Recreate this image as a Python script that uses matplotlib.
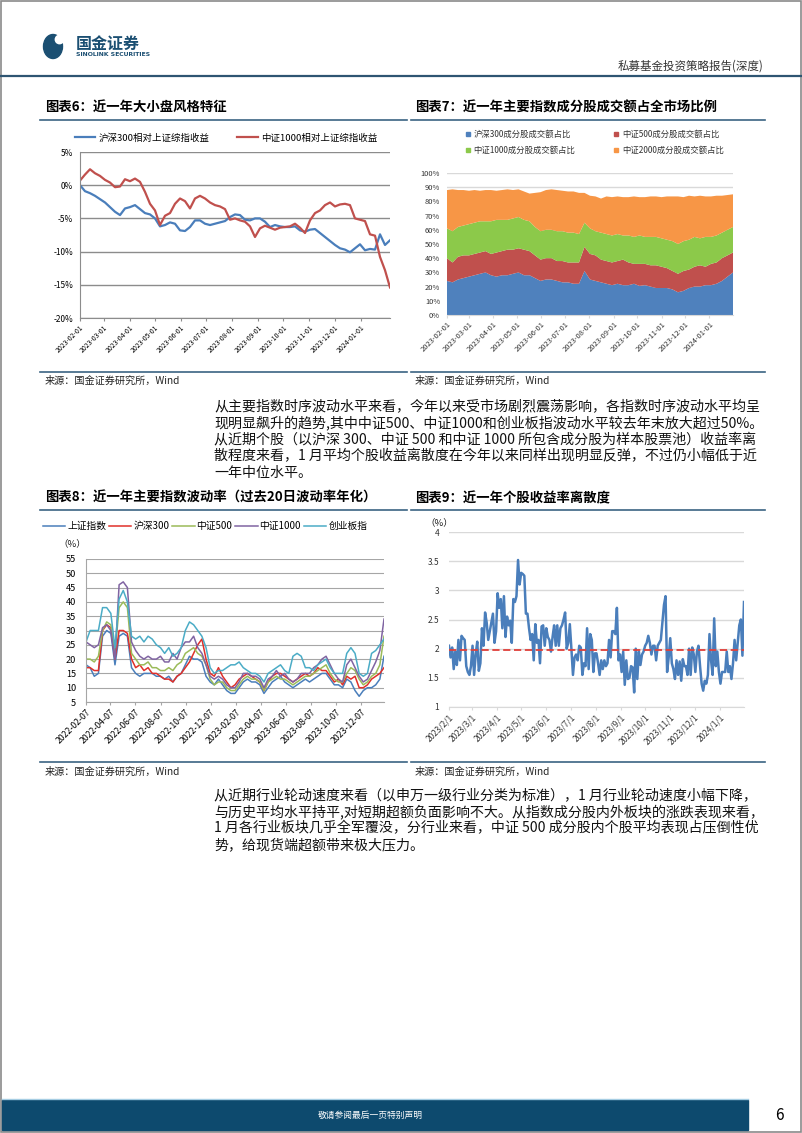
import numpy as np
import pandas as pd
import matplotlib
matplotlib.use('Agg')
import matplotlib.pyplot as plt
import matplotlib.dates as mdates
from matplotlib.patches import Rectangle, Ellipse, Circle
from matplotlib.lines import Line2D
from matplotlib.ticker import FuncFormatter, MultipleLocator, FixedLocator

plt.rcParams['font.family'] = ['Noto Sans CJK SC', 'DejaVu Sans']
plt.rcParams['axes.unicode_minus'] = False

# ── Data ─────────────────────────────────────────────────────
# Chart 6: relative returns vs SSE composite (%), roughly weekly
HS300_REL = [0, -0.9, -1.2, -1.6, -2.1, -2.6, -3.3, -4.0, -4.5, -3.5,
             -3.3, -3.0, -3.6, -4.2, -4.4, -5.0, -6.2, -6.0, -5.6, -5.8,
             -6.8, -6.9, -6.3, -5.3, -5.3, -5.8, -6.0, -5.8, -5.6, -5.4,
             -4.8, -4.4, -4.5, -5.2, -5.3, -5.0, -5.0, -5.5, -6.3, -6.0,
             -6.2, -6.3, -6.3, -6.2, -6.8, -7.0, -6.7, -6.6, -7.2, -7.8,
             -8.4, -9.0, -9.5, -9.7, -10.1, -9.5, -8.9, -9.8, -9.6, -9.7,
             -7.4, -9.0, -8.3]
ZZ1000_REL = [0.7, 1.6, 2.4, 1.8, 1.4, 0.8, 0.4, -0.3, -0.2, 0.9,
              0.6, 1.0, 0.5, -1.0, -2.8, -3.8, -6.0, -4.6, -4.2, -2.8,
              -2.0, -2.4, -3.5, -2.0, -1.6, -2.0, -2.6, -3.0, -3.2, -3.6,
              -5.2, -5.0, -5.3, -5.5, -6.2, -7.8, -6.5, -6.1, -6.4, -6.7,
              -6.4, -6.3, -6.2, -5.8, -6.4, -7.2, -5.3, -4.2, -3.8, -3.0,
              -2.6, -3.2, -2.9, -2.8, -3.0, -5.0, -5.2, -5.4, -7.4, -7.6,
              -10.8, -12.8, -15.4]
REL_LABELS = ['沪深300相对上证综指收益', '中证1000相对上证综指收益']

# Chart 7: turnover share of index constituents (%), weekly
HS300_SHARE = [24, 23, 25, 26, 27, 28, 29, 30, 28, 27, 28, 28, 29, 30, 28, 28, 26, 24,
               25, 25, 24, 23, 23, 22, 22, 31, 25, 24, 23, 22, 21, 22, 21, 21, 22, 20.5,
               21, 20, 19, 19, 19, 18, 16, 17, 19, 20, 20, 21, 21, 22, 24, 27, 30]
ZZ500_SHARE = [16, 14, 16, 16, 15, 15, 15, 15, 15, 17, 17, 18, 17, 17, 18, 17, 16, 15,
               15, 15, 14, 15, 14, 15, 15, 17, 18, 18, 16, 16, 16, 16, 18, 16, 14, 15.5,
               15, 15, 16, 15, 14, 13, 13, 14, 13, 14, 15, 13, 15, 15, 16, 15, 14]
ZZ1000_SHARE = [21, 22, 21, 21, 22, 22, 22, 21, 23, 23, 22, 21, 22, 22, 21, 21, 20, 20,
                20, 20, 21, 21, 21, 21, 20, 17, 18, 17, 19, 19, 19, 19, 17, 19, 19, 20,
                19, 20, 20, 20, 20, 21, 21, 21, 21, 21, 19, 21, 19, 19, 18, 18, 18]
ZZ2000_SHARE = [27, 29.5, 26, 25, 23.5, 23, 21.5, 22, 22, 20.5, 21, 21.5, 20, 19.5, 20, 19.5,
                24, 27.5, 28, 28.5, 29, 28.5, 29, 29, 29, 21, 23, 24.5, 24, 26.5, 27, 26.5,
                27, 27, 28.5, 27, 28, 28.5, 28.5, 29, 30.5, 31.5, 33.5, 31, 31, 28.5, 30,
                28.5, 28.5, 28, 26, 24.5, 23]
SHARE_LABELS = ['沪深300成分股成交额占比', '中证500成分股成交额占比',
                '中证1000成分股成交额占比', '中证2000成分股成交额占比']

# Chart 8: 20-day annualised volatility (%)
SH_VOL = [18, 17, 14, 15, 28, 30, 29, 18, 28, 29, 28, 17, 15, 14, 15, 15, 15, 14, 14, 13,
          14, 12, 14, 15, 18, 21, 20, 20, 19, 14, 12, 11, 13, 11, 9, 8, 8, 10, 12, 13,
          12, 12, 11, 8, 10, 12, 13, 14, 12, 11, 10, 11, 12, 13, 12, 13, 14, 15, 15, 13,
          11, 11, 10, 13, 12, 9, 7, 9, 10, 10, 11, 13, 21]
HS300_VOL = [17, 17, 16, 16, 30, 32, 31, 20, 30, 30, 29, 20, 17, 18, 16, 17, 15, 15, 14, 13,
             13, 12, 14, 15, 17, 19, 22, 25, 27, 20, 15, 14, 17, 14, 12, 10, 11, 13, 14, 15,
             14, 13, 12, 9, 12, 14, 15, 15, 14, 13, 12, 13, 14, 15, 14, 15, 17, 16, 16, 14,
             12, 13, 11, 14, 13, 14, 10, 10, 11, 13, 14, 15, 17]
ZZ500_VOL = [20, 20, 19, 21, 30, 33, 32, 22, 38, 40, 38, 22, 20, 18, 18, 19, 17, 17, 16, 16,
             17, 16, 18, 19, 22, 23, 24, 22, 21, 18, 13, 11, 12, 12, 10, 9, 9, 11, 13, 14,
             13, 13, 12, 9, 12, 13, 14, 13, 13, 12, 11, 12, 13, 14, 14, 15, 16, 17, 18, 15,
             13, 12, 12, 15, 17, 16, 13, 11, 12, 14, 15, 18, 28]
ZZ1000_VOL = [26, 25, 24, 25, 31, 32, 30, 20, 46, 47, 45, 26, 23, 21, 20, 21, 20, 20, 21, 19,
              19, 22, 20, 24, 26, 26, 28, 24, 22, 18, 14, 13, 14, 13, 11, 10, 10, 12, 15, 15,
              14, 14, 13, 10, 13, 14, 16, 14, 15, 13, 12, 13, 15, 15, 15, 17, 18, 20, 21, 18,
              15, 13, 12, 18, 20, 17, 14, 12, 13, 16, 19, 23, 34]
CYB_VOL = [26, 30, 30, 30, 38, 38, 36, 24, 41, 44, 40, 28, 27, 28, 26, 28, 27, 25, 24, 22,
           24, 21, 22, 24, 30, 33, 32, 30, 28, 24, 17, 15, 16, 16, 17, 18, 18, 19, 17, 16,
           15, 15, 14, 12, 15, 16, 17, 18, 16, 15, 21, 22, 21, 17, 17, 16, 18, 19, 20, 17,
           15, 15, 15, 22, 24, 22, 15, 14, 15, 22, 23, 25, 27]
VOL_LABELS = ['上证指数', '沪深300', '中证500', '中证1000', '创业板指']

# Chart 9: cross-sectional return dispersion (%)
DISPERSION = [2.05, 1.85, 2.02, 1.65, 1.95, 1.72, 2.15, 1.80, 2.22, 2.18, 2.15, 1.70, 1.60,
              1.55, 1.70, 2.05, 1.55, 1.90, 2.12, 1.62, 1.75, 2.35, 2.05, 2.62, 2.45, 2.15,
              2.30, 2.45, 2.60, 2.10, 2.30, 2.95, 2.70, 2.85, 2.35, 2.90, 2.20, 2.55, 2.40,
              2.48, 2.10, 2.85, 2.80, 2.90, 3.52, 3.10, 3.30, 3.28, 3.25, 2.60, 2.60, 2.35,
              2.15, 2.25, 1.80, 2.42, 2.10, 2.15, 1.75, 2.38, 2.40, 2.05, 2.35, 2.20, 2.15,
              1.95, 2.20, 2.40, 2.05, 2.40, 2.05, 2.35, 2.40, 2.50, 2.62, 2.00, 2.10, 2.42,
              2.00, 1.55, 1.85, 1.90, 1.80, 2.05, 2.02, 1.55, 1.75, 1.70, 2.35, 1.65, 2.25,
              2.15, 1.60, 1.92, 1.92, 1.75, 1.55, 1.80, 1.65, 1.80, 1.70, 1.75, 2.15, 1.85,
              2.30, 2.30, 2.25, 2.70, 1.80, 1.90, 1.60, 1.95, 1.38, 1.80, 1.48, 1.50, 1.70,
              1.68, 1.25, 2.00, 1.48, 1.95, 1.72, 1.90, 1.95, 2.05, 2.10, 2.22, 2.10, 1.90,
              2.05, 2.05, 1.80, 2.05, 2.10, 2.15, 2.45, 2.75, 2.90, 1.60, 1.85, 2.18, 1.75,
              1.65, 1.48, 1.80, 1.55, 1.78, 1.45, 1.82, 1.70, 1.70, 1.55, 2.00, 1.55, 2.02,
              1.90, 1.60, 1.95, 2.05, 1.70, 1.40, 1.28, 1.45, 1.40, 1.55, 2.25, 1.80, 1.55,
              2.52, 1.70, 1.95, 1.60, 1.40, 1.60, 1.60, 1.60, 1.95, 1.60, 1.70, 1.48, 1.75,
              2.15, 1.80, 2.10, 2.40, 2.50, 1.88, 2.80]
DISPERSION_MEDIAN = 1.97

PARA1 = ['从主要指数时序波动水平来看，今年以来受市场剧烈震荡影响，各指数时序波动水平均呈',
         '现明显飙升的趋势,其中中证500、中证1000和创业板指波动水平较去年末放大超过50%。',
         '从近期个股（以沪深 300、中证 500 和中证 1000 所包含成分股为样本股票池）收益率离',
         '散程度来看，1 月平均个股收益离散度在今年以来同样出现明显反弹，不过仍小幅低于近',
         '一年中位水平。']
PARA2 = ['从近期行业轮动速度来看（以申万一级行业分类为标准），1 月行业轮动速度小幅下降，',
         '与历史平均水平持平,对短期超额负面影响不大。从指数成分股内外板块的涨跌表现来看，',
         '1 月各行业板块几乎全军覆没，分行业来看，中证 500 成分股内个股平均表现占压倒性优',
         '势，给现货端超额带来极大压力。']
SOURCE = '来源：国金证券研究所，Wind'

# ── Page geometry (pixels) ───────────────────────────────────
W, H = 802, 1133
NAVY = '#0d4a6e'
RULE = '#3b6483'


def px_box(l, t, r, b):
    return [l / W, 1 - b / H, (r - l) / W, (b - t) / H]


def fig_pt(x, y):
    return (x / W, 1 - y / H)


def month_ticks(start, end, day=1, step=1):
    return mdates.date2num(pd.date_range(start, end, freq=f'{step}MS') + pd.Timedelta(days=day - 1))


def rotate_labels(ax, size, pad=1.5):
    for lab in ax.get_xticklabels():
        lab.set_rotation(45)
        lab.set_ha('right')
        lab.set_rotation_mode('anchor')
        lab.set_fontsize(size)
    ax.tick_params(axis='x', pad=pad)


fig = plt.figure(figsize=(W / 100, H / 100), dpi=100)
bg = fig.add_axes([0, 0, 1, 1])
bg.set_xlim(0, W)
bg.set_ylim(H, 0)
bg.axis('off')

# page frame / header / footer
bg.add_patch(Rectangle((0.5, 0.5), W - 1.5, H - 1.5, fill=False, ec='#8a8a8a', lw=1.2))
bg.add_patch(Ellipse((53, 46.5), 19, 24, color='#1b4f72'))
bg.add_patch(Circle((59.5, 39.5), 4.2, color='white'))
bg.text(76, 44, '国金证券', fontsize=11.5, fontweight='bold', color='#1b4f72', va='center')
bg.text(76, 55, 'SINOLINK SECURITIES', fontsize=4.4, fontweight='bold', color='#1b4f72',
        va='center', family='DejaVu Sans')
bg.text(763, 66, '私募基金投资策略报告(深度)', fontsize=8.3, color='#333333', ha='right', va='center')
bg.plot([1, 801], [75.5, 75.5], color='#2e5572', lw=1.6)

bg.plot([2, 748], [1098.5, 1098.5], color='#a5cde3', lw=1.0)
bg.add_patch(Rectangle((2, 1100), 746, 30, color=NAVY))
bg.text(370, 1115, '敬请参阅最后一页特别声明', fontsize=6.3, color='white', ha='center', va='center')
bg.text(779, 1115, '6', fontsize=11, color='black', ha='center', va='center')

# chart titles, rules, sources
for x, y, title in [(45, 108, '图表6：近一年大小盘风格特征'),
                    (415, 108, '图表7：近一年主要指数成分股成交额占全市场比例'),
                    (45, 498, '图表8：近一年主要指数波动率（过去20日波动率年化）'),
                    (415, 498, '图表9：近一年个股收益率离散度')]:
    bg.text(x, y, title, fontsize=9.6, fontweight='bold', color='black', va='center')
for y in [119.5, 371.5, 509.5, 761.5]:
    bg.plot([40, 407], [y, y], color=RULE, lw=1.2)
    bg.plot([411, 765], [y, y], color=RULE, lw=1.2)
for x, y in [(45, 381), (415, 381), (45, 772), (415, 772)]:
    bg.text(x, y, SOURCE, fontsize=7.3, color='#222222', va='center')

# body paragraphs
for i, line in enumerate(PARA1):
    bg.text(214, 406 + i * 16.8, line, fontsize=10.1, color='#111111', va='center')
for i, line in enumerate(PARA2):
    bg.text(214, 795 + i * 16.8, line, fontsize=10.1, color='#111111', va='center')

# ── Chart 6 ──────────────────────────────────────────────────
ax6 = fig.add_axes(px_box(80, 152, 390, 318))
d6 = pd.date_range('2023-02-01', '2024-02-05', periods=len(HS300_REL))
ax6.plot(d6, HS300_REL, color='#4a7ebb', lw=1.6, label=REL_LABELS[0])
ax6.plot(d6, ZZ1000_REL, color='#c0504d', lw=1.6, label=REL_LABELS[1])
ax6.set_ylim(-20, 5)
ax6.set_xlim(d6[0], d6[-1])
ax6.yaxis.set_major_locator(MultipleLocator(5))
ax6.yaxis.set_major_formatter(FuncFormatter(lambda v, p: f'{v:.0f}%'))
ax6.xaxis.set_major_locator(FixedLocator(month_ticks('2023-02-01', '2024-01-01')))
ax6.xaxis.set_major_formatter(mdates.DateFormatter('%Y-%m-%d'))
ax6.grid(axis='y', color='#8c8c8c', lw=1.0)
ax6.set_axisbelow(True)
for s in ['top', 'right']:
    ax6.spines[s].set_visible(False)
for s in ['left', 'bottom']:
    ax6.spines[s].set_color('#8c8c8c')
ax6.tick_params(axis='y', labelsize=6, length=0, pad=5)
ax6.tick_params(axis='x', length=2.5, color='#8c8c8c')
rotate_labels(ax6, 4.9)
ax6.legend(loc='center', bbox_to_anchor=fig_pt(226, 138), bbox_transform=fig.transFigure,
           ncol=2, frameon=False, fontsize=6.8, handlelength=2.2, handletextpad=0.3,
           columnspacing=3.0, borderpad=0)

# ── Chart 7 ──────────────────────────────────────────────────
ax7 = fig.add_axes(px_box(447, 173, 733, 315))
d7 = pd.date_range('2023-02-01', '2024-01-31', periods=len(HS300_SHARE))
colors7 = ['#4f81bd', '#c0504d', '#8cc94a', '#f79646']
ax7.stackplot(d7, HS300_SHARE, ZZ500_SHARE, ZZ1000_SHARE, ZZ2000_SHARE,
              colors=colors7, linewidth=0)
ax7.set_ylim(0, 100)
ax7.set_xlim(d7[0], d7[-1])
ax7.yaxis.set_major_locator(MultipleLocator(10))
ax7.yaxis.set_major_formatter(FuncFormatter(lambda v, p: f'{v:.0f}%'))
ax7.xaxis.set_major_locator(FixedLocator(month_ticks('2023-02-01', '2024-01-01')))
ax7.xaxis.set_major_formatter(mdates.DateFormatter('%Y-%m-%d'))
ax7.grid(axis='y', color='#d9d9d9', lw=1.0)
ax7.set_axisbelow(True)
for s in ['top', 'right', 'left']:
    ax7.spines[s].set_visible(False)
ax7.spines['bottom'].set_color('#d9d9d9')
ax7.tick_params(axis='y', labelsize=5.4, length=0, pad=5, colors='#333333')
ax7.tick_params(axis='x', length=2.5, color='#d9d9d9', labelcolor='#333333')
rotate_labels(ax7, 5.4)
h7 = [Line2D([], [], ls='none', marker='s', ms=3.5, color=c) for c in colors7]
order = [0, 2, 1, 3]
ax7.legend([h7[i] for i in order], [SHARE_LABELS[i] for i in order], loc='center',
           bbox_to_anchor=fig_pt(594, 142.5), bbox_transform=fig.transFigure, ncol=2,
           frameon=False, fontsize=6, handlelength=0.8, handletextpad=0.3,
           columnspacing=4.5, labelspacing=0.75, borderpad=0, labelcolor='#333333')

# ── Chart 8 ──────────────────────────────────────────────────
ax8 = fig.add_axes(px_box(86, 559, 384, 702))
d8 = pd.date_range('2022-02-07', '2024-02-01', periods=len(SH_VOL))
colors8 = ['#4a7ebb', '#e0302a', '#9bbb59', '#8064a2', '#4bacc6']
for vals, c, lab in zip([SH_VOL, HS300_VOL, ZZ500_VOL, ZZ1000_VOL, CYB_VOL], colors8, VOL_LABELS):
    ax8.plot(d8, vals, color=c, lw=1.1, label=lab)
ax8.set_ylim(5, 55)
ax8.set_xlim(d8[0], d8[-1])
ax8.yaxis.set_major_locator(MultipleLocator(5))
ax8.xaxis.set_major_locator(FixedLocator(month_ticks('2022-02-01', '2023-12-01', day=7, step=2)))
ax8.xaxis.set_major_formatter(mdates.DateFormatter('%Y-%m-%d'))
ax8.grid(axis='y', color='#a6a6a6', lw=0.8)
ax8.set_axisbelow(True)
for s in ['top', 'right']:
    ax8.spines[s].set_visible(False)
for s in ['left', 'bottom']:
    ax8.spines[s].set_color('#a6a6a6')
ax8.tick_params(axis='y', labelsize=6.6, length=0, pad=7)
ax8.tick_params(axis='x', length=2.5, color='#a6a6a6')
rotate_labels(ax8, 6.3)
ax8.legend(loc='center', bbox_to_anchor=fig_pt(205, 526), bbox_transform=fig.transFigure,
           ncol=5, frameon=False, fontsize=7, handlelength=2.3, handletextpad=0.2,
           columnspacing=0.3, borderpad=0)
bg.text(72, 544, '（%）', fontsize=6.8, color='#222222', ha='center', va='center')

# ── Chart 9 ──────────────────────────────────────────────────
ax9 = fig.add_axes(px_box(449, 532, 744, 707))
d9 = pd.date_range('2023-02-01', '2024-01-31', periods=len(DISPERSION))
ax9.plot(d9, DISPERSION, color='#4a7ebb', lw=1.8)
ax9.axhline(DISPERSION_MEDIAN, color='#e0403a', lw=1.3, ls=(0, (4, 2)))
ax9.set_ylim(1, 4)
ax9.set_xlim(d9[0], d9[-1])
ax9.yaxis.set_major_locator(MultipleLocator(0.5))
ax9.yaxis.set_major_formatter(FuncFormatter(lambda v, p: f'{v:g}'))
ax9.xaxis.set_major_locator(FixedLocator(month_ticks('2023-02-01', '2024-01-01')))
ax9.xaxis.set_major_formatter(FuncFormatter(
    lambda v, p: f'{mdates.num2date(v).year}/{mdates.num2date(v).month}/{mdates.num2date(v).day}'))
ax9.grid(axis='y', color='#d9d9d9', lw=1.0)
ax9.set_axisbelow(True)
for s in ['top', 'right', 'left']:
    ax9.spines[s].set_visible(False)
ax9.spines['bottom'].set_color('#d9d9d9')
ax9.tick_params(axis='y', labelsize=6, length=0, pad=7, colors='#333333')
ax9.tick_params(axis='x', length=2.5, color='#d9d9d9', labelcolor='#333333')
rotate_labels(ax9, 6)
bg.text(439, 523, '（%）', fontsize=6.8, color='#222222', ha='center', va='center')

fig.savefig('out.png', dpi=100)
